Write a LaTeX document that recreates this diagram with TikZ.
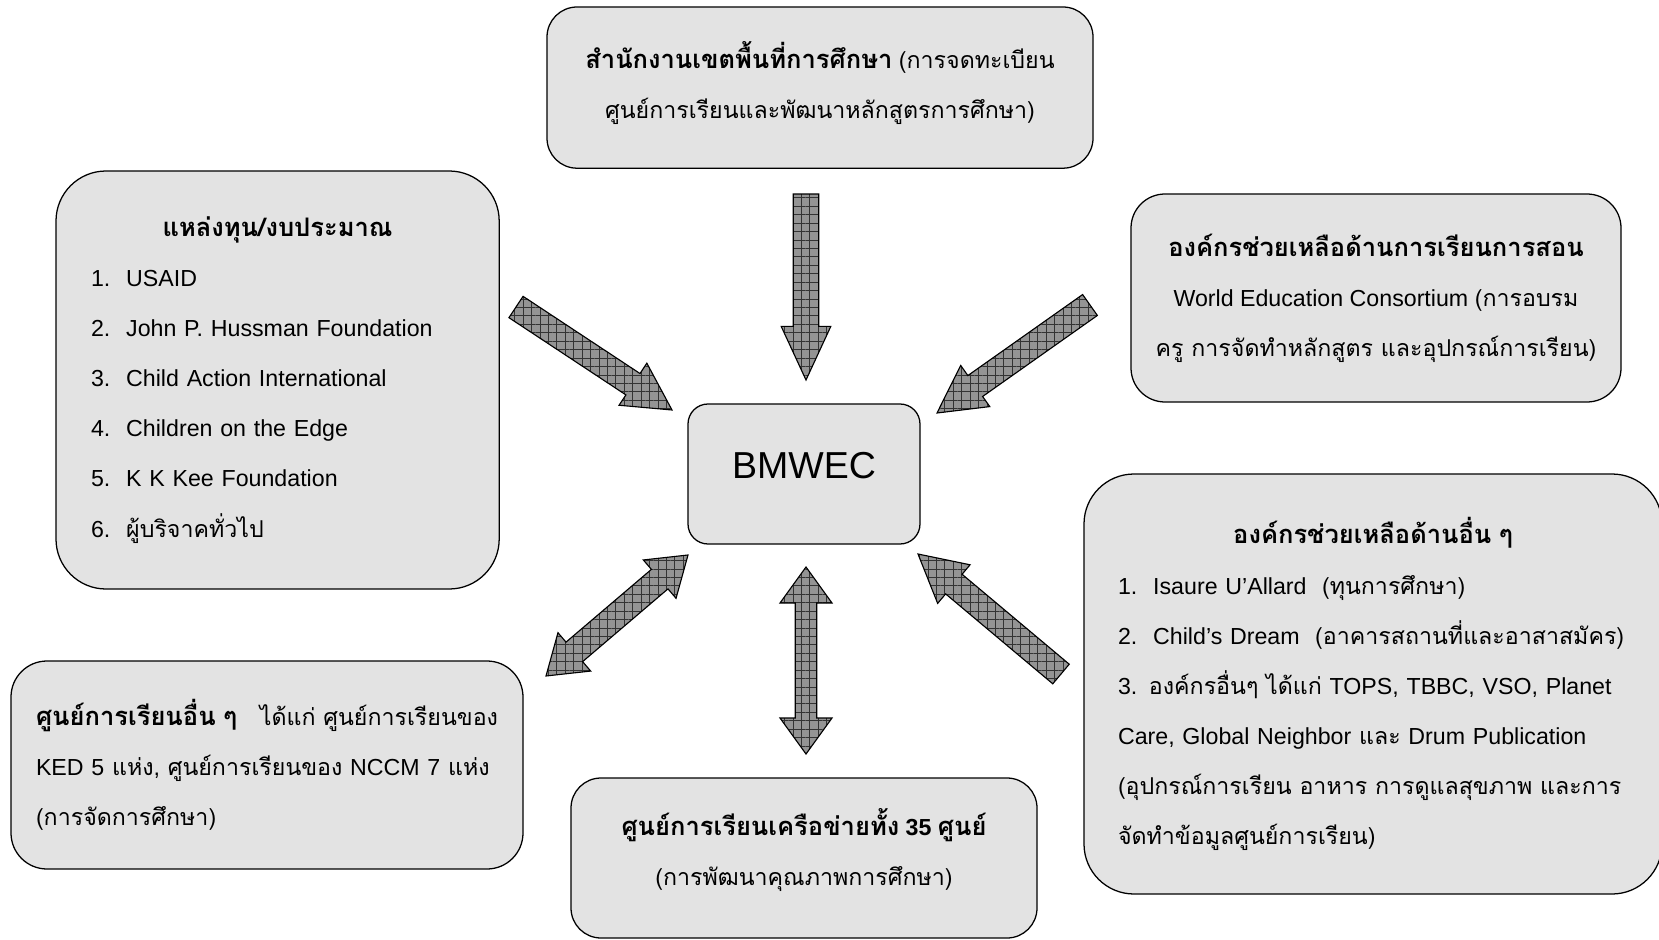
\documentclass[tikz,border=0pt]{standalone}
\usepackage{fontspec}
\setmainfont{Liberation Sans}
\newfontfamily\thaifont[Script=Thai]{Loma}
\newfontfamily\thaibig[Script=Thai,Scale=1.1]{Loma}
\usetikzlibrary{calc,patterns.meta}
\newcommand\tx[1]{{\thaifont #1}}
\newcommand\txb[1]{{\thaibig\bfseries #1}}
\newcommand\itm[1]{\makebox[0.88cm][l]{#1}}

\tikzset{
  panel/.style={draw, line width=0.9pt, fill=black!11, inner sep=0pt,
    font=\fontsize{16.5pt}{35.6pt}\selectfont},
  arrs/.store in=\arrs, arrs=0.32cm,
  arrw/.store in=\arrw, arrw=0.63cm,
  arrl/.store in=\arrl, arrl=1.17cm,
  fat/.style={draw, line width=0.8pt, line join=miter, preaction={fill=black!42},
    pattern={Hatch[distance=6pt,line width=0.45pt]}, pattern color=black!80,
    to path={let \p1=(\tikztostart), \p2=(\tikztotarget), \n1={atan2(\y2-\y1,\x2-\x1)} in
      ($(\p1)+(\n1+90:\arrs)$) -- ($(\p2)+(\n1:-\arrl)+(\n1+90:\arrs)$)
      -- ($(\p2)+(\n1:-\arrl)+(\n1+90:\arrw)$) -- (\p2)
      -- ($(\p2)+(\n1:-\arrl)+(\n1-90:\arrw)$) -- ($(\p2)+(\n1:-\arrl)+(\n1-90:\arrs)$)
      -- ($(\p1)+(\n1-90:\arrs)$) -- cycle}},
  fattwo/.style={draw, line width=0.8pt, line join=miter, preaction={fill=black!42},
    pattern={Hatch[distance=6pt,line width=0.45pt]}, pattern color=black!80,
    to path={let \p1=(\tikztostart), \p2=(\tikztotarget), \n1={atan2(\y2-\y1,\x2-\x1)} in
      ($(\p1)+(\n1:\arrl)+(\n1+90:\arrs)$) -- ($(\p2)+(\n1:-\arrl)+(\n1+90:\arrs)$)
      -- ($(\p2)+(\n1:-\arrl)+(\n1+90:\arrw)$) -- (\p2)
      -- ($(\p2)+(\n1:-\arrl)+(\n1-90:\arrw)$) -- ($(\p2)+(\n1:-\arrl)+(\n1-90:\arrs)$)
      -- ($(\p1)+(\n1:\arrl)+(\n1-90:\arrs)$) -- ($(\p1)+(\n1:\arrl)+(\n1-90:\arrw)$)
      -- (\p1) -- ($(\p1)+(\n1:\arrl)+(\n1+90:\arrw)$) -- cycle}},
}

\begin{document}
\begin{tikzpicture}
  \useasboundingbox (0,0) rectangle (41.475,-23.5);

  \node[panel, rounded corners=0.75cm, minimum width=13.65cm, minimum height=4.03cm, align=center, text depth=0.4cm] (esa) at (20.5,-2.19)
    {\txb{สำนักงานเขตพื้นที่การศึกษา} \tx{(การจดทะเบียน}\\ \tx{ศูนย์การเรียนและพัฒนาหลักสูตรการศึกษา)}};
  \node[panel, rounded corners=1.25cm, minimum width=11.08cm, minimum height=10.45cm, text width=9.33cm, align=left] (fund) at (6.94,-9.5)
    {{\centering\txb{แหล่งทุน/งบประมาณ}\par}
     \itm{1.}USAID\\ \itm{2.}John P. Hussman Foundation\\ \itm{3.}Child Action International\\
     \itm{4.}Children on the Edge\\ \itm{5.}K K Kee Foundation\\ \itm{6.}\tx{ผู้บริจาคทั่วไป}};
  \node[panel, rounded corners=0.85cm, minimum width=12.25cm, minimum height=5.2cm, align=center] (teach) at (34.4,-7.45)
    {\txb{องค์กรช่วยเหลือด้านการเรียนการสอน}\\ World Education Consortium \tx{(การอบรม}\\
     \tx{ครู การจัดทำหลักสูตร และอุปกรณ์การเรียน)}};
  \node[panel, rounded corners=0.5cm, minimum width=5.8cm, minimum height=3.5cm, text depth=0.42cm,
    font=\fontsize{26.7pt}{30pt}\selectfont] (bmwec) at (20.1,-11.85) {BMWEC};
  \node[panel, rounded corners=1.25cm, minimum width=14.45cm, minimum height=10.5cm, text width=12.75cm, align=left] (aid) at (34.325,-17.1)
    {{\centering\txb{องค์กรช่วยเหลือด้านอื่น ๆ}\par}
     \mbox{\itm{1.}Isaure U’Allard \ \tx{(ทุนการศึกษา)}}\\
     \mbox{\itm{2.}Child’s Dream \ \tx{(อาคารสถานที่และอาสาสมัคร)}}\\
     \mbox{3. \tx{องค์กรอื่นๆ ได้แก่} TOPS, TBBC, VSO, Planet}\\
     \mbox{Care, Global Neighbor \tx{และ} Drum Publication}\\
     \mbox{\tx{(อุปกรณ์การเรียน อาหาร การดูแลสุขภาพ และการ}}\\
     \tx{จัดทำข้อมูลศูนย์การเรียน)}};
  \node[panel, rounded corners=0.9cm, minimum width=12.8cm, minimum height=5.2cm, text width=11.55cm, align=left] (other) at (6.675,-19.125)
    {\makebox[11.55cm][l]{\txb{ศูนย์การเรียนอื่น ๆ}\hfill\tx{ได้แก่ ศูนย์การเรียนของ}}\\
     \makebox[11.55cm][s]{KED 5 \tx{แห่ง}, \tx{ศูนย์การเรียนของ} NCCM 7 \tx{แห่ง}}\\
     \tx{(การจัดการศึกษา)}};
  \node[panel, rounded corners=0.75cm, minimum width=11.65cm, minimum height=4cm, align=center, text depth=0.55cm] (net) at (20.1,-21.45)
    {\txb{ศูนย์การเรียนเครือข่ายทั้ง} {\bfseries 35} \txb{ศูนย์}\\ \tx{(การพัฒนาคุณภาพการศึกษา)}};

  \coordinate (t1) at (20.15,-4.85);   \coordinate (t2) at (20.15,-9.5);
  \coordinate (u1) at (12.9,-7.675);   \coordinate (u2) at (16.8,-10.25);
  \coordinate (r1) at (27.25,-7.625);  \coordinate (r2) at (23.425,-10.325);
  \coordinate (e1) at (26.525,-16.85); \coordinate (e2) at (22.95,-13.85);
  \coordinate (l1) at (13.65,-16.9);   \coordinate (l2) at (17.2,-13.875);
  \coordinate (c1) at (20.15,-14.175); \coordinate (c2) at (20.15,-18.85);

  \draw[fat, arrs=0.32cm, arrw=0.62cm, arrl=1.34cm] (t1) to (t2);
  \draw[fat] (u1) to (u2);
  \draw[fat] (r1) to (r2);
  \draw[fat] (e1) to (e2);
  \draw[fattwo, arrl=0.93cm] (l1) to (l2);
  \draw[fattwo, arrs=0.27cm, arrw=0.65cm, arrl=0.9cm] (c1) to (c2);
\end{tikzpicture}
\end{document}
